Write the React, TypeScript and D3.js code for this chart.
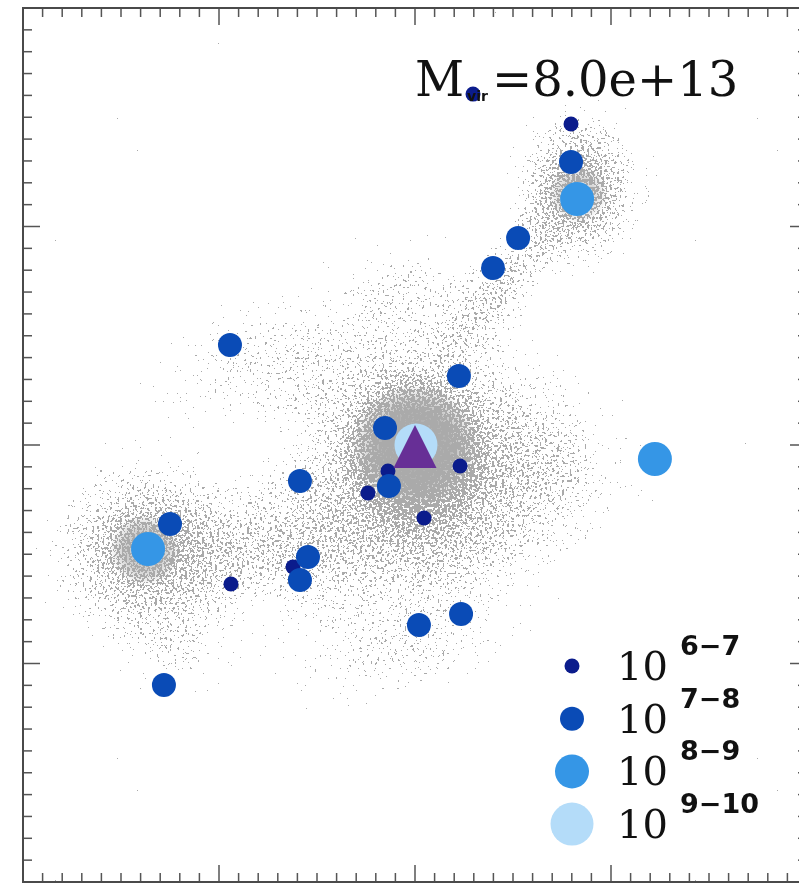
import * as d3 from 'd3'

const W = 799
const H = 883

// projected positions (Mpc/h) relative to the host centre
const hostPos: [number, number] = [0, 0]

// subhaloes by mass bin
const bin67: [number, number][] = [
  [0.296, 1.606],
  [0.796, 1.469],
  [-0.138, -0.119],
  [-0.24, -0.22],
  [0.23, -0.096],
  [0.046, -0.334],
  [-0.939, -0.636],
  [-0.622, -0.558],
]
const bin78: [number, number][] = [
  [0.796, 1.295],
  [0.526, 0.947],
  [0.398, 0.81],
  [-0.944, 0.458],
  [0.224, 0.316],
  [-0.153, 0.078],
  [-0.133, -0.188],
  [-0.587, -0.165],
  [-1.25, -0.362],
  [-0.546, -0.513],
  [-0.587, -0.618],
  [0.02, -0.824],
  [0.235, -0.773],
  [-1.281, -1.098],
]
const bin89: [number, number][] = [
  [0.827, 1.126],
  [1.224, -0.064],
  [-1.362, -0.476],
]
const bin910: [number, number][] = [[0.005, 0.0]]

const massBins = ['6−7', '7−8', '8−9', '9−10']
const title = { label: 'M', sub: 'vir', value: '=8.0e+13' }

// particle density: one blob per structure (centre, spread, rotation, peak)
const clumpX = [0.015, 0, 0.832, 0.459, -1.378, -0.74, -0.842, -0.179, 0.74, -0.077, -1.2]
const clumpY = [-0.114, -0.023, 1.176, 0.755, -0.481, -0.481, 0.389, -0.984, -0.114, 0.755, -0.95]
const clumpSx = [0.95, 0.4, 0.45, 0.62, 0.66, 0.663, 0.816, 0.9, 0.6, 0.459, 0.45]
const clumpSy = [1.02, 0.38, 0.5, 0.22, 0.57, 0.458, 0.412, 0.33, 0.6, 0.32, 0.3]
const clumpAngle = [0, 0, 0, -52, 0, 0, -20, 0, 0, 0, 0]
const clumpPeak = [0.78, 1.0, 0.76, 0.48, 0.74, 0.44, 0.34, 0.28, 0.33, 0.27, 0.27]

// unresolved dense cores (centre, radius, opacity)
const coreX = [0, -1.378, 0.832]
const coreY = [-0.01, -0.481, 1.15]
const coreR = [0.32, 0.18, 0.15]
const coreAlpha = [1, 0.65, 0.5]

const binColor = ['#0b1c8c', '#0a4bb6', '#3596e6', '#b4dcf9']
const binRadius = [7.5, 12, 17, 21.5]
const bins = [bin67, bin78, bin89, bin910]
const gray = '#aaaaaa'

const isMajor = (t: number) => Math.abs(t - Math.round(t)) < 1e-6

export default function App() {
  const x = d3.scaleLinear([-2, 2], [23, 807])
  const y = d3.scaleLinear([-2, 2], [882, 8])
  const [x0, x1] = x.range()
  const [y0, y1] = y.range()
  const xt = x.ticks(40)
  const yt = y.ticks(40)
  const len = (t: number) => (isMajor(t) ? 17 : 9)
  const tick = '#555'

  const hx = x(hostPos[0])
  const hy = y(hostPos[1])
  const tri = d3.path()
  tri.moveTo(hx, hy - 20)
  tri.lineTo(hx + 21.5, hy + 23)
  tri.lineTo(hx - 21.5, hy + 23)
  tri.closePath()

  const legX = 572
  const legY = 666
  const legStep = 52.7

  return (
    <svg
      width={W}
      height={H}
      style={{ position: 'absolute', left: 0, top: 0 }}
    >
      <defs>
        {clumpPeak.map((p, i) => (
          <radialGradient key={i} id={`clump-${i}`}>
            <stop offset="0" stopColor="#000" stopOpacity={p} />
            <stop offset="0.2" stopColor="#000" stopOpacity={p * 0.88} />
            <stop offset="0.45" stopColor="#000" stopOpacity={p * 0.6} />
            <stop offset="0.7" stopColor="#000" stopOpacity={p * 0.3} />
            <stop offset="1" stopColor="#000" stopOpacity={0} />
          </radialGradient>
        ))}
        {coreAlpha.map((a, i) => (
          <radialGradient key={i} id={`core-${i}`}>
            <stop offset="0" stopColor={gray} stopOpacity={a} />
            <stop offset="0.55" stopColor={gray} stopOpacity={a * 0.9} />
            <stop offset="1" stopColor={gray} stopOpacity={0} />
          </radialGradient>
        ))}
        <filter
          id="speckle"
          filterUnits="userSpaceOnUse"
          x={x0}
          y={y1}
          width={x1 - x0}
          height={y0 - y1}
          colorInterpolationFilters="sRGB"
        >
          <feTurbulence
            type="fractalNoise"
            baseFrequency="0.4"
            numOctaves={2}
            seed={4}
            result="noise"
          />
          <feColorMatrix
            in="noise"
            type="matrix"
            values="0 0 0 0 0  0 0 0 0 0  0 0 0 0 0  1 0 0 0 0"
            result="n"
          />
          <feComposite
            in="SourceAlpha"
            in2="n"
            operator="arithmetic"
            k1={0}
            k2={0.6}
            k3={1}
            k4={-0.38}
            result="sum"
          />
          <feComponentTransfer in="sum" result="dots">
            <feFuncA type="discrete" tableValues="0 1" />
          </feComponentTransfer>
          <feGaussianBlur in="dots" stdDeviation="0.4" result="soft" />
          <feFlood floodColor={gray} />
          <feComposite operator="in" in2="soft" />
        </filter>
        <clipPath id="plot">
          <rect x={x0} y={y1} width={x1 - x0} height={y0 - y1} />
        </clipPath>
      </defs>

      <g clipPath="url(#plot)">
        {coreX.map((cx, i) => (
          <ellipse
            key={i}
            cx={x(cx)}
            cy={y(coreY[i])}
            rx={x(coreR[i]) - x(0)}
            ry={x(coreR[i]) - x(0)}
            fill={`url(#core-${i})`}
          />
        ))}
        <g filter="url(#speckle)">
          {clumpX.map((cx, i) => {
            const px = x(cx)
            const py = y(clumpY[i])
            return (
              <ellipse
                key={i}
                cx={px}
                cy={py}
                rx={x(clumpSx[i]) - x(0)}
                ry={y(0) - y(clumpSy[i])}
                fill={`url(#clump-${i})`}
                transform={`rotate(${clumpAngle[i]},${px},${py})`}
              />
            )
          })}
        </g>

        {bins.map((pts, b) => (
          <g key={b} fill={binColor[b]}>
            {pts.map((d, i) => (
              <circle key={i} cx={x(d[0])} cy={y(d[1])} r={binRadius[b]} />
            ))}
          </g>
        ))}
        <path d={tri.toString()} fill="#672f96" />
      </g>

      <g stroke={tick} strokeWidth={1.5}>
        {xt.map((t, i) => (
          <g key={'x' + i}>
            <line x1={x(t)} x2={x(t)} y1={y0} y2={y0 - len(t)} />
            <line x1={x(t)} x2={x(t)} y1={y1} y2={y1 + len(t)} />
          </g>
        ))}
        {yt.map((t, i) => (
          <g key={'y' + i}>
            <line x1={x0} x2={x0 + len(t)} y1={y(t)} y2={y(t)} />
            <line x1={x1} x2={x1 - len(t)} y1={y(t)} y2={y(t)} />
          </g>
        ))}
      </g>
      <rect
        x={x0}
        y={y1}
        width={x1 - x0}
        height={y0 - y1}
        fill="none"
        stroke="#4a4a4a"
        strokeWidth={2}
      />

      <g fill="#111">
        <text x={415} y={96} fontFamily="DejaVu Serif" fontSize={48}>
          {title.label}
        </text>
        <text
          x={467}
          y={101}
          fontFamily="DejaVu Sans"
          fontWeight="bold"
          fontSize={14}
        >
          {title.sub}
        </text>
        <text x={492} y={96} fontFamily="DejaVu Serif" fontSize={48}>
          {title.value}
        </text>
      </g>

      {massBins.map((m, i) => (
        <g key={m}>
          <circle
            cx={legX}
            cy={legY + i * legStep}
            r={binRadius[i]}
            fill={binColor[i]}
          />
          <text
            x={617}
            y={legY + 14 + i * legStep}
            fontFamily="DejaVu Serif"
            fontSize={40}
            fill="#111"
          >
            10
          </text>
          <text
            x={680}
            y={legY - 11 + i * legStep}
            fontFamily="DejaVu Sans"
            fontWeight="bold"
            fontSize={27}
            fill="#111"
          >
            {m}
          </text>
        </g>
      ))}
    </svg>
  )
}
